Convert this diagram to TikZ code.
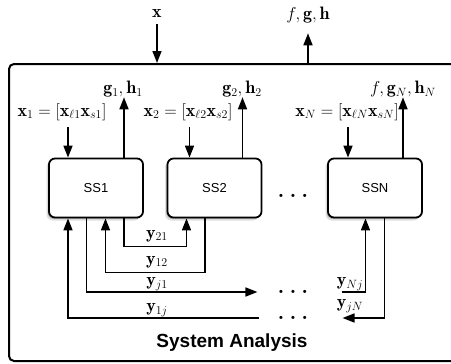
\documentclass[tikz,border=0pt]{standalone}
\usepackage{fontspec}
\setsansfont{Liberation Sans}
\usepackage{amsmath}
\usetikzlibrary{arrows.meta,shadows}

\begin{document}
\begin{tikzpicture}[x=1pt,y=-1pt,
	subsys/.style={draw,line width=1.8pt,rounded corners=6pt,fill=white,
		minimum width=94pt,minimum height=59pt,
		font=\sffamily\fontsize{13}{15}\selectfont,
		drop shadow={shadow xshift=-2.5pt,shadow yshift=-3pt,opacity=.25},
		drop shadow={shadow xshift=-1.2pt,shadow yshift=-1.5pt,opacity=.45}},
	lab/.style={inner sep=0pt,font=\fontsize{18}{21}\selectfont},
	flow/.style={line width=1.6pt,-{Triangle[length=12pt,width=9pt]}},
	dotsnode/.style={inner sep=0pt,font=\bfseries\fontsize{22}{24}\selectfont}]
	% frame of the whole analysis
	\useasboundingbox (0,0) rectangle (451,364);
	\node[draw,line width=2pt,rounded corners=5pt,inner sep=0pt,
		minimum width=452pt,minimum height=297pt] (sys) at (235,212.5) {};
	\node[font=\sffamily\bfseries\fontsize{19}{22}\selectfont] (title) at (232,343) {System Analysis};
	
	% subsystems
	\node[subsys] (ss1) at (96,188) {SS1};
	\node[subsys] (ss2) at (214.5,188) {SS2};
	\node[subsys] (ssn) at (375,188) {SSN};
	\node[dotsnode] (dmid) at (293,196) {.\hspace{5pt}.\hspace{5pt}.};
	
	% global inputs and outputs
	\node[lab] (xin) at (157,14) {$\mathbf{x}$};
	\node[lab] (fgh) at (308,15) {$f,\mathbf{g},\mathbf{h}$};
	\draw[flow,shorten <=6pt] (xin) -- (xin |- sys.north);
	\draw[flow,shorten >=10pt] (fgh |- sys.north) -- (fgh);
	
	% local inputs and outputs
	\node[lab] (x1) at (62,112) {$\mathbf{x}_1=[\mathbf{x}_{\ell 1}\mathbf{x}_{s1}]$};
	\node[lab] (x2) at (188,112) {$\mathbf{x}_2=[\mathbf{x}_{\ell 2}\mathbf{x}_{s2}]$};
	\node[lab] (xn) at (347,112) {$\mathbf{x}_N=[\mathbf{x}_{\ell N}\mathbf{x}_{sN}]$};
	\node[lab] (gh1) at (123,89) {$\mathbf{g}_1,\mathbf{h}_1$};
	\node[lab] (gh2) at (242,89) {$\mathbf{g}_2,\mathbf{h}_2$};
	\node[lab] (ghn) at (403,89) {$f,\mathbf{g}_N,\mathbf{h}_N$};
	\draw[flow,shorten <=6pt] ([xshift=-28pt]ss1.north |- x1.south) -- ([xshift=-28pt]ss1.north);
	\draw[flow,shorten <=6pt] ([xshift=-25pt]ss2.north |- x2.south) -- ([xshift=-25pt]ss2.north);
	\draw[flow,shorten <=6pt] ([xshift=-27pt]ssn.north |- xn.south) -- ([xshift=-27pt]ssn.north);
	\draw[flow] ([xshift=28pt]ss1.north) -- ([xshift=28pt]ss1.north |- gh1.south);
	\draw[flow] ([xshift=28pt]ss2.north) -- ([xshift=28pt]ss2.north |- gh2.south);
	\draw[flow] ([xshift=28pt]ssn.north) -- ([xshift=28pt]ssn.north |- ghn.south);
	
	% coupling variables
	\node[dotsnode] (dj1) at (293,292) {.\hspace{5pt}.\hspace{5pt}.};
	\node[dotsnode] (d1j) at (293,318) {.\hspace{5pt}.\hspace{5pt}.};
	\draw[flow] ([xshift=28pt]ss1.south) -- ++(0,28) -| ([xshift=-28pt]ss2.south);
	\draw[flow] ([xshift=-9.5pt]ss2.south) -- ++(0,54) -| ([xshift=9.5pt]ss1.south);
	\draw[flow] ([xshift=-9.5pt]ss1.south) |- ([xshift=-20pt]dj1.west);
	\draw[flow] ([xshift=-18pt]d1j.west) -| ([xshift=-28pt]ss1.south);
	\draw[flow] ([xshift=33pt]dj1.east) -| ([xshift=-9.5pt]ssn.south);
	\draw[flow] ([xshift=9.5pt]ssn.south) |- ([xshift=34pt]d1j.east);
	\node[lab] (y21) at (157,236) {$\mathbf{y}_{21}$};
	\node[lab] (y12) at (157,262) {$\mathbf{y}_{12}$};
	\node[lab] (yj1) at (157,284) {$\mathbf{y}_{j1}$};
	\node[lab] (y1j) at (157,310) {$\mathbf{y}_{1j}$};
	\node[lab] (ynj) at (350,284) {$\mathbf{y}_{Nj}$};
	\node[lab] (yjn) at (350,306) {$\mathbf{y}_{jN}$};
\end{tikzpicture}
\end{document}
